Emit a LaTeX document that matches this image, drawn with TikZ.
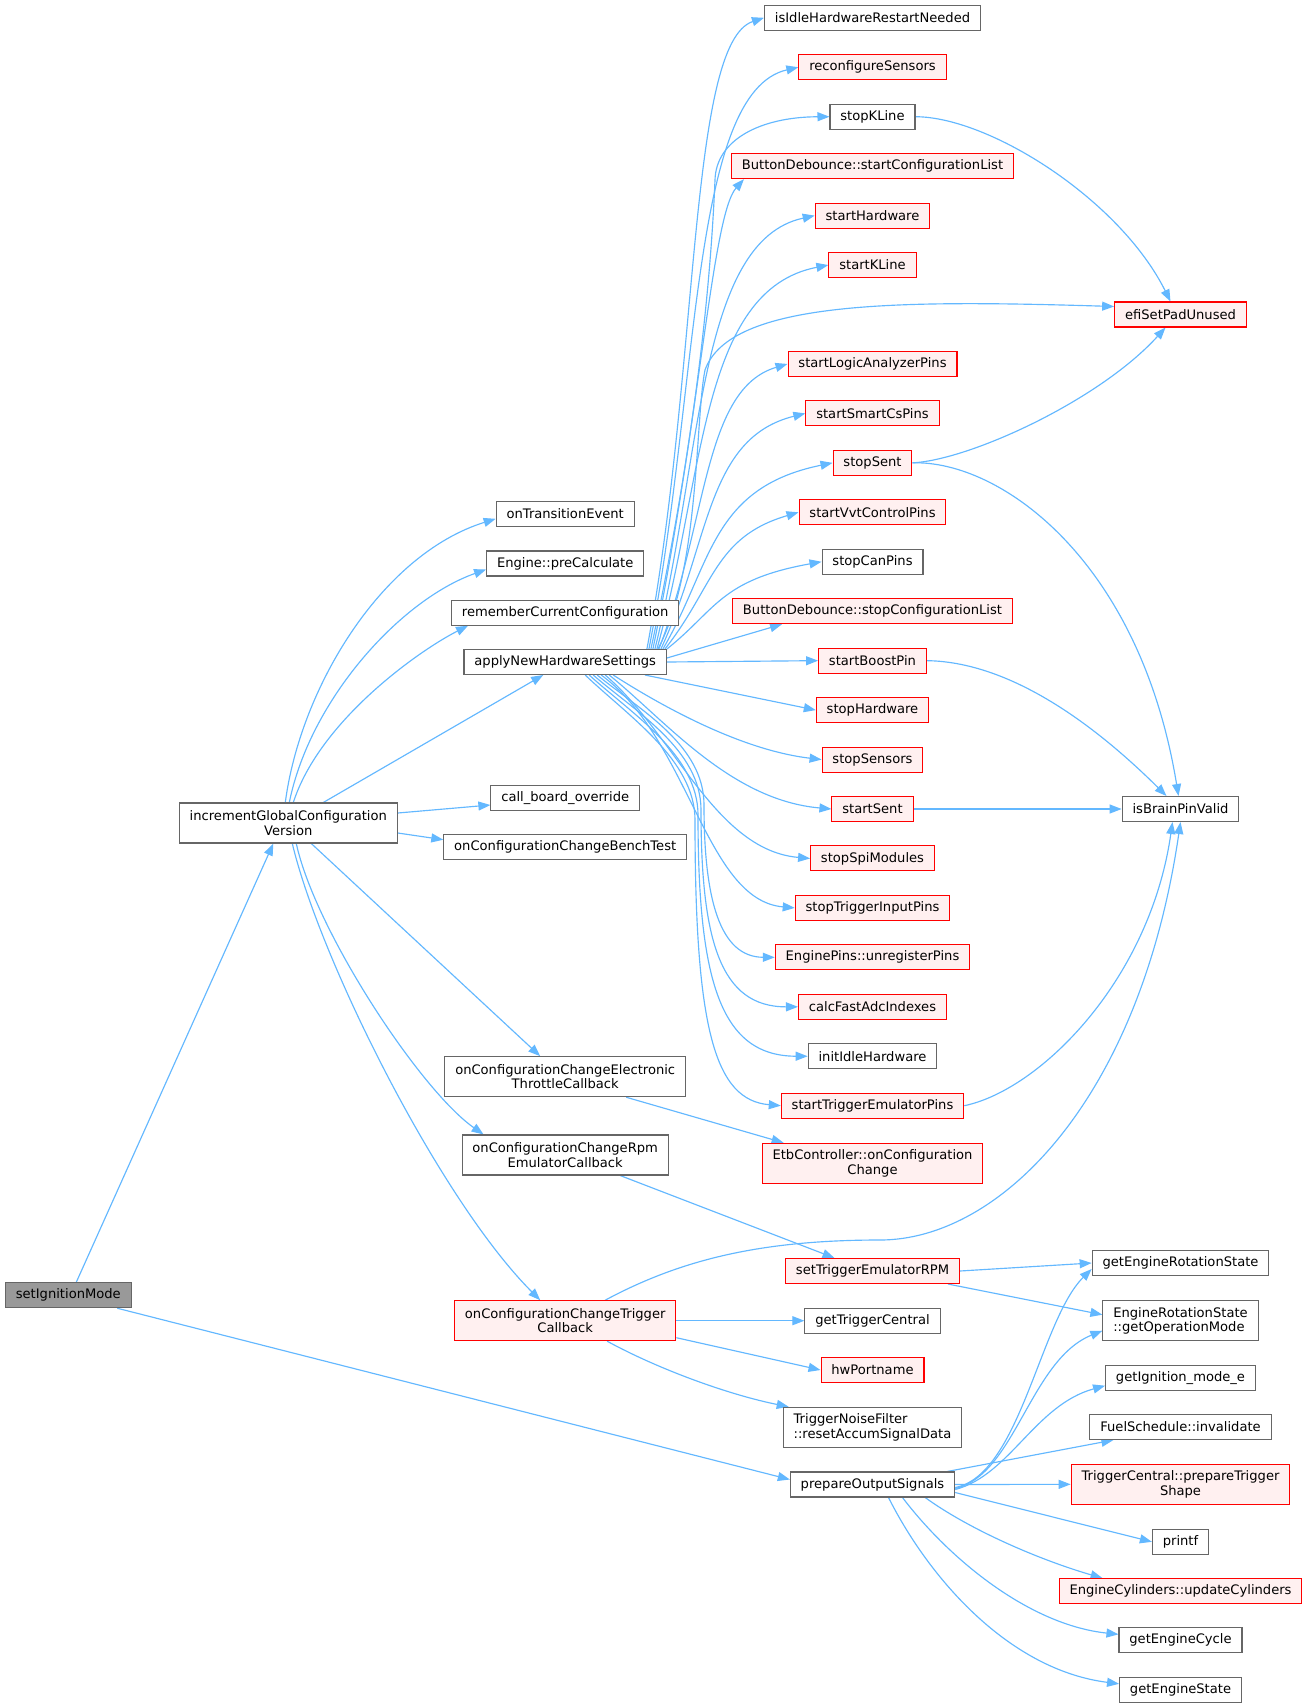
\documentclass[tikz,border=0pt]{standalone}
\usepackage{fontspec}
\setmainfont{DejaVu Sans}
\usetikzlibrary{arrows.meta}
\pgfdeclarelayer{edgelayer}
\pgfsetlayers{edgelayer,main}
\definecolor{edgec}{HTML}{63B8FF}
\definecolor{nodeb}{HTML}{666666}
\definecolor{redb}{HTML}{FF0000}
\definecolor{redf}{HTML}{FFF0F0}
\definecolor{rootf}{HTML}{999999}
\newcommand\dgfont{\fontsize{13.1}{14.6}\selectfont}
\tikzset{
  nd/.style={draw=nodeb, fill=white, line width=1.05pt, minimum height=25pt,
    inner xsep=10.4pt, inner ysep=2pt, font=\dgfont, text=black, align=center},
  rd/.style={nd, draw=redb, fill=redf},
  rootnd/.style={nd, fill=rootf},
  two/.style={minimum height=40pt},
  e/.style={draw=edgec, line width=1.15pt, -{Triangle[length=12pt,width=9pt]}}
}
\begin{document}
\begin{tikzpicture}[x=1pt,y=-1pt]
\begin{pgfonlayer}{edgelayer}
\fill[white] (0,0) rectangle (1307,1708);
\end{pgfonlayer}
\useasboundingbox (0,0) rectangle (1307,1708);
% column 0 / 1
\node[rootnd] (sim) at (68.3,1295.2) {setIgnitionMode};
\node[nd,two] (ig) at (288.3,823) {incrementGlobalConfiguration\\Version};
% column 2
\node[nd] (ote) at (565.2,513.8) {onTransitionEvent};
\node[nd] (epc) at (565.2,563.5) {Engine::preCalculate};
\node[nd] (rcc) at (565.2,612.7) {rememberCurrentConfiguration};
\node[nd] (an) at (565.2,662) {applyNewHardwareSettings};
\node[nd] (cbo) at (565.2,798) {call\_board\_override};
\node[nd] (bt) at (565.2,846.7) {onConfigurationChangeBenchTest};
\node[nd,two] (etc) at (565.2,1076.7) {onConfigurationChangeElectronic\\ThrottleCallback};
\node[nd,two] (rpm) at (565.2,1155) {onConfigurationChangeRpm\\EmulatorCallback};
\node[rd,two] (tcb) at (565.2,1320.7) {onConfigurationChangeTrigger\\Callback};
% column 3
\node[nd] (ihr) at (872.5,17.8) {isIdleHardwareRestartNeeded};
\node[rd] (rcs) at (872.5,67.25) {reconfigureSensors};
\node[nd] (skl) at (872.5,116.7) {stopKLine};
\node[rd] (bdsc) at (872.5,166.15) {ButtonDebounce::startConfigurationList};
\node[rd] (sth) at (872.5,215.6) {startHardware};
\node[rd] (stk) at (872.5,265.05) {startKLine};
\node[rd] (sla) at (872.5,363.95) {startLogicAnalyzerPins};
\node[rd] (scs) at (872.5,413.4) {startSmartCsPins};
\node[rd] (sts) at (872.5,462.85) {stopSent};
\node[rd] (svc) at (872.5,512.3) {startVvtControlPins};
\node[nd] (scp) at (872.5,561.75) {stopCanPins};
\node[rd] (bdst) at (872.5,611.2) {ButtonDebounce::stopConfigurationList};
\node[rd] (sbp) at (872.5,660.65) {startBoostPin};
\node[rd] (sph) at (872.5,710.1) {stopHardware};
\node[rd] (sss) at (872.5,759.55) {stopSensors};
\node[rd] (ssn) at (872.5,809) {startSent};
\node[rd] (ssm) at (872.5,858.45) {stopSpiModules};
\node[rd] (sti) at (872.5,907.9) {stopTriggerInputPins};
\node[rd] (epu) at (872.5,957.35) {EnginePins::unregisterPins};
\node[rd] (cfa) at (872.5,1006.8) {calcFastAdcIndexes};
\node[nd] (iih) at (872.5,1056.25) {initIdleHardware};
\node[rd] (ste) at (872.5,1105.7) {startTriggerEmulatorPins};
\node[rd,two] (etb) at (872.5,1163.3) {EtbController::onConfiguration\\Change};
\node[rd] (str) at (872.5,1271) {setTriggerEmulatorRPM};
\node[nd] (gtc) at (872.5,1320.7) {getTriggerCentral};
\node[rd] (hwp) at (872.5,1370) {hwPortname};
\node[nd,two,align=left] (tnf) at (872.5,1427.3) {TriggerNoiseFilter\\::resetAccumSignalData};
\node[nd] (pos) at (872.5,1484.5) {prepareOutputSignals};
% column 4
\node[rd] (efi) at (1180.5,314.5) {efiSetPadUnused};
\node[nd] (ibp) at (1180.5,809) {isBrainPinValid};
\node[nd] (gers) at (1180.5,1263) {getEngineRotationState};
\node[nd,two,align=left] (geom) at (1180.5,1320.7) {EngineRotationState\\::getOperationMode};
\node[nd] (gim) at (1180.5,1377.7) {getIgnition\_mode\_e};
\node[nd] (fsi) at (1180.5,1427) {FuelSchedule::invalidate};
\node[rd,two] (tcps) at (1180.5,1484.3) {TriggerCentral::prepareTrigger\\Shape};
\node[nd] (prf) at (1180.5,1541.8) {printf};
\node[rd] (ecu) at (1180.5,1591.2) {EngineCylinders::updateCylinders};
\node[nd] (gec) at (1180.5,1640.3) {getEngineCycle};
\node[nd] (ges) at (1180.5,1689.8) {getEngineState};
\begin{pgfonlayer}{edgelayer}
% edges: setIgnitionMode
\draw[e] ([xshift=8pt]sim.north) -- ([xshift=-15pt]ig.south);
\draw[e] ([xshift=49pt]sim.south) -- ([yshift=5pt]pos.west);
% edges: incrementGlobalConfigurationVersion
\draw[e] ([xshift=-3pt]ig.north) .. controls (300,690) and (380,555) .. ([yshift=-5pt]ote.west);
\draw[e] ([xshift=1pt]ig.north) .. controls (310,700) and (400,600) .. ([yshift=-6pt]epc.west);
\draw[e] ([xshift=5pt]ig.north) .. controls (320,720) and (420,650) .. ([xshift=17pt]rcc.south west);
\draw[e] ([xshift=35pt]ig.north) -- ([xshift=-22pt]an.south);
\draw[e] ([yshift=10pt]ig.east) -- ([yshift=-7pt]cbo.west);
\draw[e] ([yshift=-10pt]ig.east) -- ([yshift=7pt]bt.west);
\draw[e] ([xshift=23pt]ig.south) -- ([xshift=-25pt]etc.north);
\draw[e] ([xshift=8pt]ig.south) .. controls (315,930) and (420,1090) .. ([xshift=22pt]rpm.north west);
\draw[e] ([xshift=4pt]ig.south) .. controls (320,960) and (440,1200) .. ([xshift=-25pt]tcb.north);
% edges: applyNewHardwareSettings, upper fan
\draw[e] ([xshift=-20pt]an.north east) .. controls (700,365) and (688,43) .. (ihr.west);
\draw[e] ([xshift=-18pt]an.north east) .. controls (700,387) and (690,92) .. (rcs.west);
\draw[e] ([xshift=-16pt]an.north east) .. controls (702,410) and (712,250) .. (715,180) .. controls (716,140) and (760,117) .. (skl.west);
\draw[e] ([xshift=-14pt]an.north east) .. controls (700,420) and (712,215) .. ([xshift=13pt]bdsc.south west);
\draw[e] ([xshift=-12pt]an.north east) .. controls (703,454) and (698,241) .. (sth.west);
\draw[e] ([xshift=-10pt]an.north east) .. controls (705,476) and (700,290) .. (stk.west);
\draw[e] ([xshift=-9pt]an.north east) .. controls (700,570) and (695,420) .. (705,370) .. controls (730,300) and (900,300) .. ([yshift=8pt]efi.west);
\draw[e] ([xshift=-8pt]an.north east) .. controls (708,521) and (703,389) .. (sla.west);
\draw[e] ([xshift=-6pt]an.north east) .. controls (710,543) and (706,438) .. (scs.west);
\draw[e] ([xshift=-4pt]an.north east) .. controls (712,565) and (710,488) .. (sts.west);
\draw[e] ([xshift=-2pt]an.north east) .. controls (714,587) and (714,537) .. (svc.west);
\draw[e] (an.north east) .. controls (716,610) and (720,580) .. (scp.west);
\draw[e] ([yshift=4pt]an.east) -- ([xshift=50pt]bdst.south west);
\draw[e] (an.east) -- (sbp.west);
% lower fan
\draw[e] ([xshift=-22pt]an.south east) -- (sph.west);
\draw[e] ([xshift=48pt]an.south) .. controls (660,705) and (740,750) .. (sss.west);
\draw[e] ([xshift=44pt]an.south) .. controls (665,720) and (730,800) .. (ssn.west);
\draw[e] ([xshift=40pt]an.south) .. controls (675,735) and (715,850) .. (ssm.west);
\draw[e] ([xshift=36pt]an.south) .. controls (690,740) and (705,900) .. (sti.west);
\draw[e] ([xshift=32pt]an.south) .. controls (640,710) and (704,745) .. (704,805) .. controls (704,900) and (720,957) .. (epu.west);
\draw[e] ([xshift=28pt]an.south) .. controls (636,712) and (701,750) .. (701,810) .. controls (701,940) and (720,1007) .. (cfa.west);
\draw[e] ([xshift=24pt]an.south) .. controls (632,714) and (698,755) .. (698,815) .. controls (698,980) and (720,1056) .. (iih.west);
\draw[e] ([xshift=20pt]an.south) .. controls (628,716) and (695,760) .. (695,820) .. controls (695,1030) and (715,1100) .. (ste.west);
% column 3 -> column 4
\draw[e] (skl.east) .. controls (990,117) and (1120,200) .. ([xshift=-10pt]efi.north);
\draw[e] (sts.east) .. controls (970,460) and (1100,400) .. ([xshift=-15pt]efi.south);
\draw[e] (sts.east) .. controls (1000,460) and (1140,560) .. ([xshift=-2pt]ibp.north);
\draw[e] (sbp.east) .. controls (1020,662) and (1110,740) .. ([xshift=-14pt]ibp.north);
\draw[e] (ssn.east) -- (ibp.west);
\draw[e] (ste.east) .. controls (1040,1090) and (1150,980) .. ([xshift=-8pt]ibp.south);
\draw[e] ([xshift=40pt]tcb.north) .. controls (680,1260) and (760,1240) .. (880,1240) .. controls (1000,1240) and (1140,1100) .. (ibp.south);
% column 2 -> column 3
\draw[e] ([xshift=61pt]etc.south) -- ([xshift=22pt]etb.north west);
\draw[e] ([xshift=55pt]rpm.south) -- ([xshift=-38pt]str.north);
\draw[e] (tcb.east) -- (gtc.west);
\draw[e] ([yshift=-17pt]tcb.east) -- (hwp.west);
\draw[e] ([xshift=42pt]tcb.south) .. controls (660,1370) and (730,1395) .. ([xshift=6pt]tnf.north west);
% setTriggerEmulatorRPM
\draw[e] (str.east) -- (gers.west);
\draw[e] ([xshift=-12pt]str.south east) -- ([yshift=6pt]geom.west);
% prepareOutputSignals
\draw[e] ([yshift=-3pt]pos.east) .. controls (1020,1475) and (1040,1320) .. ([yshift=-6pt]gers.west);
\draw[e] ([yshift=-4pt]pos.east) .. controls (1015,1475) and (1030,1360) .. ([yshift=-10pt]geom.west);
\draw[e] ([yshift=-5pt]pos.east) .. controls (1010,1475) and (1035,1405) .. ([yshift=-8pt]gim.west);
\draw[e] ([xshift=-8pt]pos.north east) -- ([xshift=24pt]fsi.south west);
\draw[e] (pos.east) -- (tcps.west);
\draw[e] ([yshift=-8pt]pos.east) -- (prf.west);
\draw[e] ([xshift=-30pt]pos.south east) .. controls (970,1530) and (1040,1560) .. ([xshift=44pt]ecu.north west);
\draw[e] ([xshift=30pt]pos.south) .. controls (950,1560) and (1030,1625) .. ([yshift=6pt]gec.west);
\draw[e] ([xshift=16pt]pos.south) .. controls (930,1580) and (1010,1670) .. ([yshift=6pt]ges.west);
\end{pgfonlayer}
\end{tikzpicture}
\end{document}
